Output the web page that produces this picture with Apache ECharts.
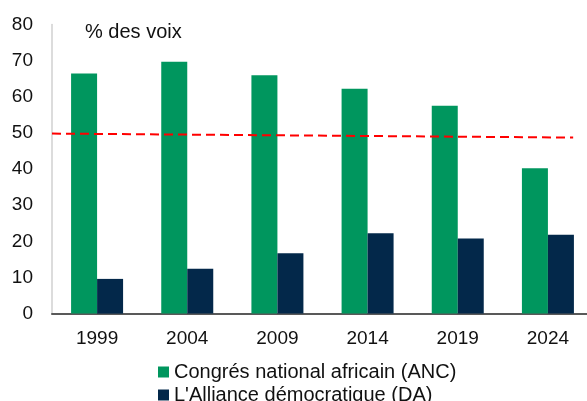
<!DOCTYPE html>
<html>
<head>
<meta charset="utf-8">
<script src="https://cdn.jsdelivr.net/npm/echarts@6/dist/echarts.min.js"></script>
<style>
  html, body { margin: 0; padding: 0; background: #fff; }
  #chart-panel { width: 587px; height: 401px; }
</style>
</head>
<body>
<div id="chart-panel"></div>
<script>
// données
const years = ["1999", "2004", "2009", "2014", "2019", "2024"]
const ancValues = [66.4, 69.7, 65.9, 62.2, 57.5, 40.2]
const daValues = [9.6, 12.4, 16.7, 22.2, 20.8, 21.8]
const yTicks = [0, 10, 20, 30, 40, 50, 60, 70, 80]
// ligne des 50 % (légèrement inclinée dans l'original)
const majorityLine = [[0, 49.8], [5.78, 48.7]]
const ancName = "Congrés national africain (ANC)"
const daName = "L'Alliance démocratique (DA)"

const font = "Liberation Sans, Arial, sans-serif"
const chart = echarts.init(document.getElementById("chart-panel"))

const legendText = {
  fontFamily: font,
  fontSize: 20,
  color: "#111"
}

const options = {
  animation: false,
  grid: {
    left: 52,
    top: 24.4,
    width: 541,
    bottom: 87.4,
    outerBoundsMode: "none",
    containLabel: false
  },
  title: {
    text: "% des voix",
    left: 80,
    top: 17,
    textStyle: {
      fontFamily: font,
      fontSize: 20,
      fontWeight: "normal",
      color: "#111"
    }
  },
  legend: [
    {
      left: 153,
      top: 357,
      icon: "rect",
      itemWidth: 11,
      itemHeight: 11,
      data: [ancName],
      textStyle: legendText
    },
    {
      left: 153,
      top: 380,
      icon: "rect",
      itemWidth: 11,
      itemHeight: 11,
      data: [daName],
      textStyle: legendText
    }
  ],
  xAxis: [
    {
      type: "category",
      data: years,
      axisLine: {
        show: true,
        lineStyle: { color: "#595959", width: 2 }
      },
      axisTick: { show: false },
      axisLabel: {
        margin: 16,
        fontFamily: font,
        fontSize: 19,
        color: "#111",
        interval: 0
      }
    },
    {
      type: "value",
      min: 0,
      max: 6,
      show: false
    }
  ],
  yAxis: {
    type: "value",
    min: yTicks[0],
    max: yTicks[yTicks.length - 1],
    interval: 10,
    axisLine: {
      show: true,
      lineStyle: { color: "#d0d0d0", width: 1.5 }
    },
    axisTick: { show: false },
    splitLine: { show: false },
    axisLabel: {
      margin: 19,
      fontFamily: font,
      fontSize: 19,
      color: "#111"
    }
  },
  series: [
    {
      name: ancName,
      type: "bar",
      data: ancValues,
      barWidth: 26,
      barGap: "0%",
      itemStyle: { color: "#00965e" }
    },
    {
      name: daName,
      type: "bar",
      data: daValues,
      barWidth: 26,
      itemStyle: { color: "#03284a" }
    },
    {
      type: "line",
      xAxisIndex: 1,
      data: majorityLine,
      symbol: "none",
      silent: true,
      z: 5,
      lineStyle: {
        color: "#ff0000",
        width: 2,
        type: [9, 5]
      }
    }
  ]
}
chart.setOption(options)
</script>
</body>
</html>
